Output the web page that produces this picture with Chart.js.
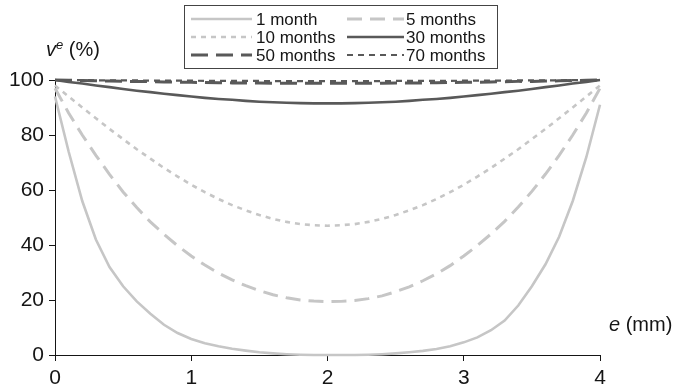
<!DOCTYPE html>
<html>
<head>
<meta charset="utf-8">
<script src="https://cdn.jsdelivr.net/npm/chart.js@4.4.1/dist/chart.umd.min.js"></script>
<style>
  html, body { margin: 0; padding: 0; background: #ffffff; }
  #wrap { width: 678px; height: 391px; position: relative; }
</style>
</head>
<body>
<div id="wrap"><canvas id="chart" width="678" height="391"></canvas></div>
<script>
// Depth through the thickness, e (mm)
const depthMm = [0, 0.1, 0.2, 0.3, 0.4, 0.5, 0.6, 0.7, 0.8, 0.9, 1.0,
  1.1, 1.2, 1.3, 1.4, 1.5, 1.6, 1.7, 1.8, 1.9, 2.0,
  2.1, 2.2, 2.3, 2.4, 2.5, 2.6, 2.7, 2.8, 2.9, 3.0,
  3.1, 3.2, 3.3, 3.4, 3.5, 3.6, 3.7, 3.8, 3.9, 4.0];

// v^e (%) profiles after each ageing time
const month1 = [94, 74, 56, 42, 32, 25, 19.5, 15, 11, 8, 5.8,
  4.3, 3.2, 2.3, 1.6, 1.0, 0.6, 0.3, 0.1, 0, 0,
  0, 0, 0.1, 0.3, 0.6, 1.0, 1.5, 2.2, 3.2, 4.6,
  6.4, 9, 12.5, 18, 25, 33, 43, 56, 72, 91];
const months5 = [97, 88, 80, 72.6, 65.7, 59.3, 53.6, 48.4, 43.9, 39.7, 36,
  32.7, 29.8, 27.3, 25.2, 23.4, 21.9, 20.8, 20, 19.6, 19.4,
  19.5, 19.8, 20.5, 21.5, 23, 24.8, 27, 29.5, 32.5, 36,
  39.8, 44, 48.6, 53.8, 59.5, 65.8, 72.6, 80, 88, 97];
const months10 = [98, 94, 90, 86.1, 82.2, 78.5, 74.8, 71.4, 68, 64.9, 61.9,
  59.2, 56.7, 54.5, 52.6, 50.9, 49.5, 48.4, 47.6, 47.2, 47,
  47.2, 47.6, 48.4, 49.5, 50.9, 52.6, 54.5, 56.7, 59.2, 61.9,
  64.9, 68, 71.4, 74.8, 78.5, 82.2, 86.1, 90, 94, 98];
const months30 = [100, 99.3, 98.7, 98, 97.4, 96.7, 96.1, 95.6, 95, 94.5, 94,
  93.5, 93.1, 92.8, 92.4, 92.1, 91.9, 91.7, 91.6, 91.5, 91.5,
  91.5, 91.6, 91.7, 91.9, 92.1, 92.4, 92.8, 93.1, 93.5, 94,
  94.5, 95, 95.6, 96.1, 96.7, 97.4, 98, 98.7, 99.3, 100];
const months50 = [100, 99.9, 99.8, 99.7, 99.6, 99.5, 99.5, 99.4, 99.3, 99.2, 99.15,
  99.1, 99.0, 98.95, 98.9, 98.9, 98.85, 98.8, 98.8, 98.8, 98.8,
  98.8, 98.8, 98.8, 98.85, 98.9, 98.9, 98.95, 99.0, 99.1, 99.15,
  99.2, 99.3, 99.4, 99.5, 99.5, 99.6, 99.7, 99.8, 99.9, 100];
const months70 = [100, 100, 99.95, 99.9, 99.9, 99.85, 99.85, 99.8, 99.8, 99.75, 99.75,
  99.7, 99.7, 99.7, 99.65, 99.65, 99.6, 99.6, 99.6, 99.6, 99.6,
  99.6, 99.6, 99.6, 99.6, 99.65, 99.65, 99.7, 99.7, 99.7, 99.75,
  99.75, 99.8, 99.8, 99.85, 99.85, 99.9, 99.9, 99.95, 100, 100];

const seriesLabels = ['1 month', '5 months', '10 months', '30 months', '50 months', '70 months'];
const xTicks = [0, 1, 2, 3, 4];
const yTicks = [0, 20, 40, 60, 80, 100];

const LIGHT = '#c6c6c6';
const DARK = '#595959';
const INK = '#151515';
const FONT = '"Liberation Sans", Arial, Helvetica, sans-serif';

const styles = [
  { color: LIGHT, width: 2.6, dash: [] },
  { color: LIGHT, width: 3, dash: [15, 8] },
  { color: LIGHT, width: 2.6, dash: [5, 5] },
  { color: DARK, width: 2.6, dash: [] },
  { color: DARK, width: 3, dash: [17, 8] },
  { color: DARK, width: 2.2, dash: [6, 5] }
];
const allSeries = [month1, months5, months10, months30, months50, months70];

const datasets = allSeries.map((vals, k) => ({
  label: seriesLabels[k],
  data: depthMm.map((x, i) => ({ x: x, y: vals[i] })),
  borderColor: styles[k].color,
  borderWidth: styles[k].width,
  borderDash: styles[k].dash,
  pointRadius: 0,
  tension: 0,
  fill: false,
  clip: false
}));

// Boxed two-column legend plus axis titles
const annotations = {
  id: 'annotations',
  afterDraw(chart) {
    const ctx = chart.ctx;
    ctx.save();
    // legend frame
    ctx.fillStyle = '#ffffff';
    ctx.fillRect(184.5, 5.5, 313, 63);
    ctx.strokeStyle = '#444444';
    ctx.lineWidth = 1;
    ctx.strokeRect(184.5, 5.5, 313, 63);
    const rows = [19, 37, 55];
    const cols = [{ x0: 191, x1: 252, tx: 256 }, { x0: 347, x1: 404, tx: 406 }];
    ctx.font = '17px ' + FONT;
    ctx.textBaseline = 'middle';
    ctx.textAlign = 'left';
    seriesLabels.forEach((lab, k) => {
      const r = rows[Math.floor(k / 2)];
      const c = cols[k % 2];
      const st = styles[k];
      ctx.beginPath();
      ctx.setLineDash(st.dash);
      ctx.strokeStyle = st.color;
      ctx.lineWidth = st.width;
      ctx.moveTo(c.x0, r);
      ctx.lineTo(c.x1, r);
      ctx.stroke();
      ctx.setLineDash([]);
      ctx.fillStyle = INK;
      ctx.fillText(lab, c.tx, r + 1);
    });
    // y-axis title: v^e (%)
    ctx.textBaseline = 'alphabetic';
    ctx.fillStyle = INK;
    let x = 46;
    const yb = 56;
    ctx.font = 'italic 20px ' + FONT;
    ctx.fillText('v', x, yb);
    x += ctx.measureText('v').width;
    ctx.font = 'italic 13px ' + FONT;
    ctx.fillText('e', x, yb - 7);
    x += ctx.measureText('e').width;
    ctx.font = '20px ' + FONT;
    ctx.fillText(' (%)', x, yb);
    // x-axis title: e (mm)
    let x2 = 609;
    const yb2 = 331;
    ctx.font = 'italic 20px ' + FONT;
    ctx.fillText('e', x2, yb2);
    x2 += ctx.measureText('e').width;
    ctx.font = '20px ' + FONT;
    ctx.fillText(' (mm)', x2, yb2);
    ctx.restore();
  }
};

new Chart(document.getElementById('chart'), {
  type: 'line',
  data: { datasets: datasets },
  plugins: [annotations],
  options: {
    responsive: false,
    animation: false,
    layout: { padding: { top: 80, right: 78, left: 0, bottom: 0 } },
    plugins: { legend: { display: false }, tooltip: { enabled: false } },
    scales: {
      x: {
        type: 'linear',
        min: 0,
        max: 4,
        afterFit(scale) { scale.height = 36; },
        afterBuildTicks(scale) { scale.ticks = xTicks.map(v => ({ value: v })); },
        ticks: { color: INK, font: { family: FONT, size: 21 }, padding: 5, maxRotation: 0 },
        grid: { drawOnChartArea: false, drawTicks: true, tickLength: 6, color: INK, lineWidth: 1 },
        border: { display: true, color: INK, width: 1 }
      },
      y: {
        type: 'linear',
        min: 0,
        max: 100,
        afterFit(scale) { scale.width = 55; },
        afterBuildTicks(scale) { scale.ticks = yTicks.map(v => ({ value: v })); },
        ticks: { color: INK, font: { family: FONT, size: 21 }, padding: 5 },
        grid: { drawOnChartArea: false, drawTicks: true, tickLength: 6, color: INK, lineWidth: 1 },
        border: { display: true, color: INK, width: 1 }
      }
    }
  }
});
</script>
</body>
</html>
